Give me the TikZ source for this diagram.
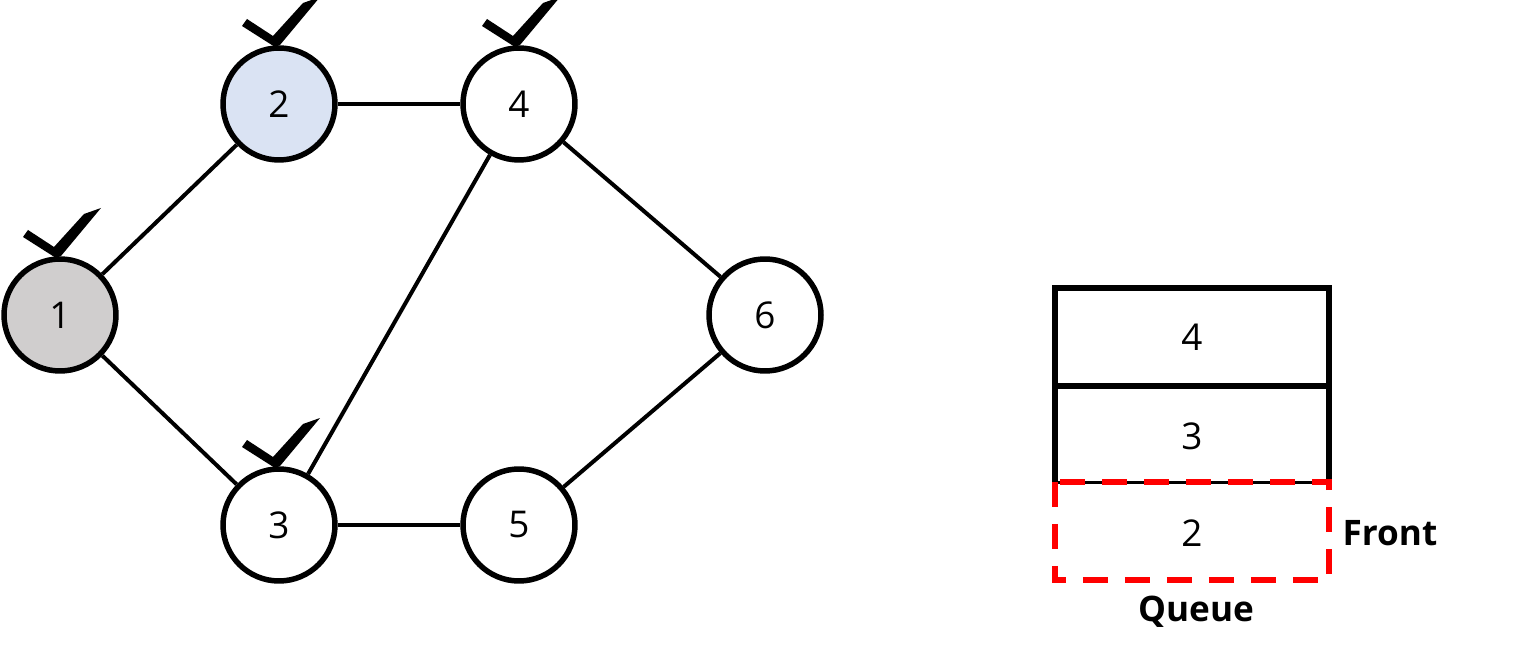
\documentclass[tikz,border=0pt]{standalone}
\usepackage{fontspec}
\setmainfont{Open Sans}
\usepackage{xcolor}
\usepackage{tikz}
\usetikzlibrary{positioning}

\definecolor{visitgray}{HTML}{D0CECE}
\definecolor{curblue}{HTML}{DAE3F3}

\begin{document}
\begin{tikzpicture}[x=0.02cm,y=-0.02cm,
	vertex/.style={circle,draw,fill=white,line width=0.11cm,minimum size=2.24cm,inner sep=0pt,font=\fontsize{21}{25}\selectfont},
	edge/.style={line width=0.08cm},
	cell/.style={font=\fontsize{21}{25}\selectfont},
	caption/.style={font=\fontsize{20}{24}\selectfont\bfseries}]
	\useasboundingbox (0,0) rectangle (1531,658);

	% \draw graph nodes
	\node[vertex,fill=visitgray] (n1) at (60,315) {1};
	\node[vertex,fill=curblue] (n2) at (279,104) {2};
	\node[vertex] (n3) at (279,525) {3};
	\node[vertex] (n4) at (519,104) {4};
	\node[vertex] (n5) at (519,525) {5};
	\node[vertex] (n6) at (765,315) {6};

	% \draw edges
	\draw[edge] (n1) -- (n2);
	\draw[edge] (n1) -- (n3);
	\draw[edge] (n2) -- (n4);
	\draw[edge] (n4) -- (n3);
	\draw[edge] (n4) -- (n6);
	\draw[edge] (n3) -- (n5);
	\draw[edge] (n5) -- (n6);

	% \draw check marks
	\foreach \n in {n1,n2,n3,n4} {
	  \fill[black,shift={(\n)}] (-4,-57) -- (-37,-78) -- (-32,-85) -- (-6,-68)
	    -- (24,-101) -- (41,-107) -- (1,-59) -- cycle;
	}

	% \draw queue
	\draw[line width=0.12cm] (1055,482) -- (1055,288) -- (1329,288) -- (1329,482);
	\draw[line width=0.12cm] (1055,386) -- (1329,386);
	\draw[line width=0.06cm] (1055,482) -- (1329,482);
	\draw[red,line width=0.12cm,dash pattern=on 0.5cm off 0.34cm] (1055,482) rectangle (1329,580);

	\node[cell] (q4) at (1192,337) {4};
	\node[cell] (q3) at (1192,436) {3};
	\node[cell] (q2) at (1192,533) {2};
	\node[caption] (front) at (1390,533) {Front};
	\node[caption] (queue) at (1196,612) {Queue};
\end{tikzpicture}
\end{document}
